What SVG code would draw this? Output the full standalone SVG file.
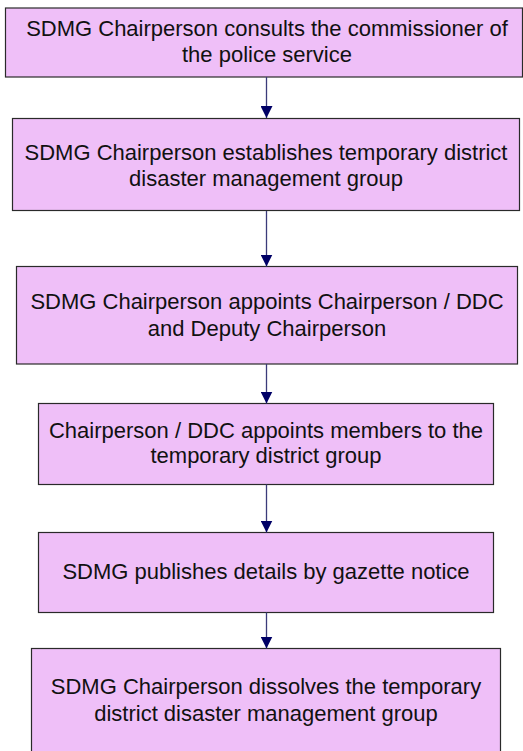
<svg xmlns="http://www.w3.org/2000/svg" width="523" height="751" viewBox="0 0 523 751">
  <style>
    .box { fill: #efbff8; stroke: #2a2a2a; stroke-width: 1.2; }
    .lbl { font-family: "Liberation Sans", Arial, sans-serif; font-size: 22px; fill: #111; text-anchor: middle; }
    .link { stroke: #3b3b7a; stroke-width: 1.3; fill: none; }
  </style>
  <defs>
    <marker id="head" markerWidth="12" markerHeight="12" refX="12" refY="6" orient="auto" markerUnits="userSpaceOnUse">
      <path d="M0,0 L12,6 L0,12 Z" fill="#000066"/>
    </marker>
  </defs>

  <g id="step1">
    <rect class="box" x="5.5" y="8" width="517" height="69"/>
    <text class="lbl" x="267" y="36">SDMG Chairperson consults the commissioner of</text>
    <text class="lbl" x="267" y="62">the police service</text>
  </g>

  <g id="step2">
    <rect class="box" x="12.5" y="118.5" width="507" height="92"/>
    <text class="lbl" x="266" y="160">SDMG Chairperson establishes temporary district</text>
    <text class="lbl" x="266" y="186">disaster management group</text>
  </g>

  <g id="step3">
    <rect class="box" x="16.5" y="266.5" width="501" height="97.5"/>
    <text class="lbl" x="267" y="309">SDMG Chairperson appoints Chairperson / DDC</text>
    <text class="lbl" x="267" y="336">and Deputy Chairperson</text>
  </g>

  <g id="step4">
    <rect class="box" x="38.5" y="403.5" width="455" height="81"/>
    <text class="lbl" x="266" y="438">Chairperson / DDC appoints members to the</text>
    <text class="lbl" x="266" y="463">temporary district group</text>
  </g>

  <g id="step5">
    <rect class="box" x="38.5" y="532.5" width="455" height="80"/>
    <text class="lbl" x="266" y="579">SDMG publishes details by gazette notice</text>
  </g>

  <g id="step6">
    <rect class="box" x="31.5" y="648.5" width="469" height="110"/>
    <text class="lbl" x="266" y="694">SDMG Chairperson dissolves the temporary</text>
    <text class="lbl" x="266" y="721">district disaster management group</text>
  </g>

  <g id="connectors">
    <line class="link" x1="266.5" y1="77" x2="266.5" y2="118" marker-end="url(#head)"/>
    <line class="link" x1="266.5" y1="211" x2="266.5" y2="266.5" marker-end="url(#head)"/>
    <line class="link" x1="266.5" y1="364" x2="266.5" y2="403.5" marker-end="url(#head)"/>
    <line class="link" x1="266.5" y1="484.5" x2="266.5" y2="532.5" marker-end="url(#head)"/>
    <line class="link" x1="266.5" y1="612.5" x2="266.5" y2="648.5" marker-end="url(#head)"/>
  </g>
</svg>
